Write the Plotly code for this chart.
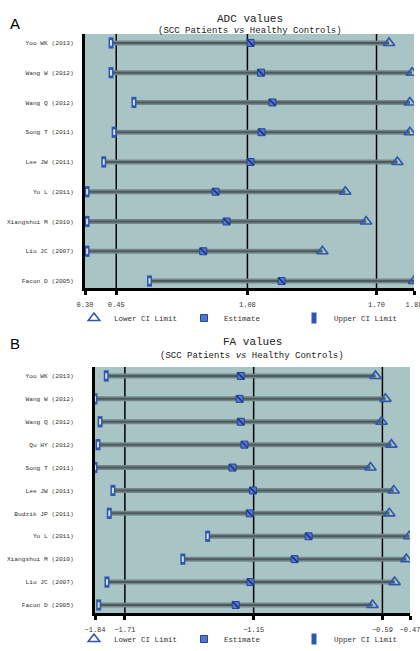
import plotly.graph_objects as go

# ---------------- data ----------------
adc_studies = ["Yoo WK (2013)", "Wang W (2012)", "Wang Q (2012)", "Song T (2011)",
               "Lee JW (2011)", "Yu L (2011)", "Xiangshui M (2010)", "Liu JC (2007)",
               "Facon D (2005)"]
adc_lower_ci = [1.76, 1.87, 1.86, 1.86, 1.80, 1.55, 1.65, 1.44, 1.88]   # triangles
adc_estimate = [1.095, 1.145, 1.20, 1.148, 1.095, 0.927, 0.98, 0.868, 1.244]
adc_upper_ci = [0.425, 0.425, 0.535, 0.44, 0.39, 0.31, 0.31, 0.31, 0.61]  # rectangles
adc_ticks = [0.30, 0.45, 1.08, 1.70, 1.88]
adc_ticktext = ["0.30", "0.45", "1.08", "1.70", "1.88"]
adc_reflines = [0.45, 1.08, 1.70]

fa_studies = ["Yoo WK (2013)", "Wang W (2012)", "Wang Q (2012)", "Qu HY (2012)",
              "Song T (2011)", "Lee JW (2011)", "Budzik JP (2011)", "Yu L (2011)",
              "Xiangshui M (2010)", "Liu JC (2007)", "Facon D (2005)"]
fa_lower_ci = [-0.62, -0.577, -0.594, -0.551, -0.642, -0.541, -0.56, -0.473, -0.486, -0.537, -0.633]
fa_estimate = [-1.206, -1.211, -1.206, -1.19, -1.242, -1.153, -1.167, -0.911, -0.972, -1.164, -1.228]
fa_upper_ci = [-1.791, -1.84, -1.818, -1.827, -1.84, -1.762, -1.778, -1.35, -1.458, -1.788, -1.824]
fa_ticks = [-1.84, -1.71, -1.15, -0.59, -0.47]
fa_ticktext = ["\u22121.84", "\u22121.71", "\u22121.15", "\u22120.59", "\u22120.47"]
fa_reflines = [-1.71, -1.15, -0.59]

# ---------------- style ----------------
W, H = 420, 651
BG = "#a9c4c5"
BLUE = "#2f56b0"
MONO = "Liberation Mono, Courier New, monospace"

fig = go.Figure()


def add_panel(studies, lower, est, upper, xa, ya, legend):
    lx, ly = [], []
    for s, a, b in zip(studies, upper, lower):
        lx += [a, b, None]
        ly += [s, s, None]
    fig.add_trace(go.Scatter(x=lx, y=ly, mode="lines", line=dict(color="#73878a", width=5),
                             showlegend=False, hoverinfo="skip", xaxis=xa, yaxis=ya))
    fig.add_trace(go.Scatter(x=lx, y=ly, mode="lines", line=dict(color="#4e5b5d", width=2),
                             showlegend=False, hoverinfo="skip", xaxis=xa, yaxis=ya))
    # lower CI : triangles
    fig.add_trace(go.Scatter(x=lower, y=studies, mode="markers", name="Lower CI Limit",
                             marker=dict(symbol="triangle-up-open", size=10, color=BLUE,
                                         line=dict(width=1.6, color=BLUE)),
                             legend=legend, xaxis=xa, yaxis=ya))
    # estimate : square with diagonal
    fig.add_trace(go.Scatter(x=est, y=studies, mode="markers", name="Estimate",
                             marker=dict(symbol="square", size=7, color="#5675c8",
                                         line=dict(color="#23449e", width=1)),
                             legend=legend, xaxis=xa, yaxis=ya))
    fig.add_trace(go.Scatter(x=est, y=studies, mode="markers", showlegend=False, hoverinfo="skip",
                             marker=dict(symbol="line-nw", size=6, color="#142d75",
                                         line=dict(width=1.3, color="#142d75")),
                             xaxis=xa, yaxis=ya))
    # upper CI : narrow open rectangle
    fig.add_trace(go.Scatter(x=upper, y=studies, mode="markers", name="Upper CI Limit",
                             marker=dict(symbol="line-ns", size=8, color=BLUE,
                                         line=dict(width=5, color=BLUE)),
                             legend=legend, xaxis=xa, yaxis=ya))
    fig.add_trace(go.Scatter(x=upper, y=studies, mode="markers", showlegend=False, hoverinfo="skip",
                             marker=dict(symbol="line-ns", size=4, color="#d0deea",
                                         line=dict(width=2, color="#d0deea")),
                             xaxis=xa, yaxis=ya))


add_panel(adc_studies, adc_lower_ci, adc_estimate, adc_upper_ci, "x", "y", "legend")
add_panel(fa_studies, fa_lower_ci, fa_estimate, fa_upper_ci, "x2", "y2", "legend2")

for xv in adc_reflines:
    fig.add_shape(type="line", xref="x", yref="y domain", x0=xv, x1=xv, y0=0, y1=1,
                  line=dict(color="black", width=1.5), layer="below")
for xv in fa_reflines:
    fig.add_shape(type="line", xref="x2", yref="y2 domain", x0=xv, x1=xv, y0=0, y1=1,
                  line=dict(color="black", width=1.5), layer="below")

xcommon = dict(showgrid=False, zeroline=False, showline=True, linecolor="black", linewidth=3,
               ticks="outside", ticklen=4, tickwidth=3, tickcolor="black", automargin=False,
               ticklabeloverflow="allow", ticklabelstandoff=4,
               tickfont=dict(family=MONO, size=7, color="#333"), fixedrange=True)
ycommon = dict(showgrid=False, zeroline=False, showline=True, linecolor="black", linewidth=3,
               ticks="", automargin=False,
               tickfont=dict(family=MONO, size=6.2, color="#333"), fixedrange=True)

legcommon = dict(orientation="h", xanchor="left", yanchor="middle",
                 font=dict(family=MONO, size=7.5, color="#333"), bgcolor="rgba(0,0,0,0)",
                 entrywidth=65, entrywidthmode="pixels", itemwidth=30, tracegroupgap=0)

fig.update_layout(
    width=W, height=H, margin=dict(l=0, r=0, t=0, b=0, autoexpand=False),
    paper_bgcolor="white", plot_bgcolor=BG,
    xaxis=dict(domain=[85 / W, 414 / W], range=[0.30, 1.88], tickvals=adc_ticks,
               ticktext=adc_ticktext, anchor="y", **xcommon),
    yaxis=dict(domain=[1 - 288 / H, 1 - 34 / H], type="category", categoryorder="array",
               categoryarray=adc_studies, range=[8.235, -0.30], anchor="x",
               ticklabelstandoff=7, **ycommon),
    xaxis2=dict(domain=[95 / W, 410 / W], range=[-1.84, -0.47], tickvals=fa_ticks,
                ticktext=fa_ticktext, anchor="y2", **xcommon),
    yaxis2=dict(domain=[1 - 613 / H, 1 - 367 / H], type="category", categoryorder="array",
                categoryarray=fa_studies, range=[10.35, -0.39], anchor="x2",
                ticklabelstandoff=17, **ycommon),
    legend=dict(x=74 / W, y=1 - 318 / H, **legcommon),
    legend2=dict(x=74 / W, y=1 - 639 / H, **legcommon),
    showlegend=True,
)

ann = []
ann.append(dict(text="A", x=8 / W, y=1 - 12.5 / H, xref="paper", yref="paper", showarrow=False,
                font=dict(family="Liberation Sans, Arial", size=15, color="black")))
ann.append(dict(text="B", x=8 / W, y=1 - 343 / H, xref="paper", yref="paper", showarrow=False,
                font=dict(family="Liberation Sans, Arial", size=15, color="black")))
ann.append(dict(text="ADC values", x=250 / W, y=1 - 11 / H, xref="paper", yref="paper",
                showarrow=False, font=dict(family=MONO, size=11, color="#222")))
ann.append(dict(text="(SCC Patients <i>vs</i> Healthy Controls)", x=250 / W, y=1 - 24 / H,
                xref="paper", yref="paper", showarrow=False,
                font=dict(family=MONO, size=9, color="#222")))
ann.append(dict(text="FA values", x=252 / W, y=1 - 342 / H, xref="paper", yref="paper",
                showarrow=False, font=dict(family=MONO, size=11, color="#222")))
ann.append(dict(text="(SCC Patients <i>vs</i> Healthy Controls)", x=252 / W, y=1 - 356 / H,
                xref="paper", yref="paper", showarrow=False,
                font=dict(family=MONO, size=9, color="#222")))
fig.update_layout(annotations=ann)

fig.write_html("out.html")
